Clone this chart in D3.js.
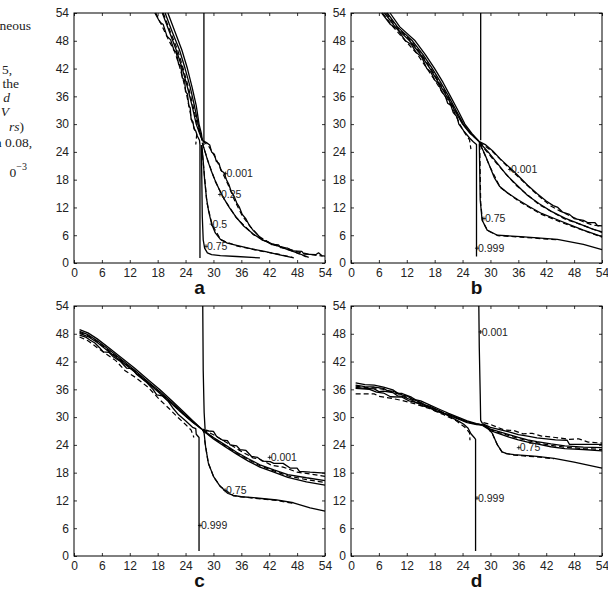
<!DOCTYPE html>
<html>
<head>
<meta charset="utf-8">
<script src="https://cdn.jsdelivr.net/npm/d3@7"></script>
<style>
  body { margin: 0; background: #fff; }
  svg { display: block; }
</style>
</head>
<body>
<svg width="608" height="603"></svg>
<script>
// axis ticks shared by all four panels
const tickValues = [0, 6, 12, 18, 24, 30, 36, 42, 48, 54];

// caption fragment cut off at the left edge: [text, style, rest]
const captionLines = [
  ["neous", "", ""], ["5,", "", ""], ["the", "", ""], ["d", "i", ""], ["V", "i", ""],
  ["rs", "i", ")"], ["n", "b", " 0.08,"], ["0", "", "\u22123"]
];

// contour lines, [x, y] in plot units; d = dashed
const curvesA = [
  { d: 0, p: [[17.4,54],[18.5,52],[19.2,51.5],[20,49],[20.8,48.2],[21.5,46],[22,45.5],[22.5,43],[23,42.5],[23.3,40],[23.8,39.5],[24,37],[24.4,36.5],[24.7,34],[25,33.5],[25.2,31],[25.6,30.5],[25.8,29],[26.2,28.5],[26.5,27.5],[27,26.5],[27.1,25.5],[27.1,1.1]] },
  { d: 1, p: [[17.6,54],[18.8,51.5],[20.2,48.5],[21.7,45.5],[22.6,42.8],[23.5,39.5],[24.2,36.5],[24.8,33.5],[25.4,30.5],[26,28.8],[26.4,27.8],[26.2,25.6]] },
  { d: 0, p: [[19,54],[20.5,50],[22,46],[23.3,42],[24.4,38],[25.4,34],[26.3,30],[27,28],[27.6,26.5]] },
  { d: 1, p: [[19.2,54],[20.7,50],[22.3,46],[23.5,42],[24.6,38],[25.6,34],[26.5,30],[27.1,28],[27.6,26.5]] },
  { d: 0, p: [[19.6,54],[21.1,50],[22.7,46],[23.9,42],[25,38],[25.9,34],[26.7,30],[27.2,28],[27.6,26.5]] },
  { d: 0, p: [[20.2,54],[21.7,50],[23.2,46],[24.4,42],[25.4,38],[26.3,34],[26.9,30],[27.4,28],[27.6,26.5]] },
  { d: 0, p: [[27.95,54],[27.95,25.5]] },
  { d: 0, p: [[27.6,26.5],[28.5,26],[29.2,25.5],[29.6,24],[30.2,23.5],[30.6,22],[31.2,21.5],[31.6,20],[32.3,19.5],[32.8,18],[33.3,17],[33.8,15.5],[34.4,14.5],[35,13],[35.6,12],[36.2,10.5],[37,9.5],[37.8,8],[38.6,7],[39.6,6],[40.5,5],[41.5,4.6],[42.5,4],[44,3.9],[44.5,3.3],[46,3.2],[47,2.6],[49,2.5],[49.5,1.9],[52,1.8],[52.6,2.2],[53.3,1.6],[54,1.5]] },
  { d: 1, p: [[27.7,26.4],[29,25.2],[30.4,22.8],[31.8,19.8],[33.2,16.8],[34.6,13.4],[36.2,10.2],[38,7.8],[40,5.6],[42,4.4],[44,3.7],[46,3.1],[48.5,2.3],[51,1.8],[53.5,1.5]] },
  { d: 0, p: [[27.6,26],[28.2,24],[28.8,22],[29.5,20],[30.3,18],[31.2,16],[32.2,14],[33.4,12],[34.8,10],[36.5,8],[38.5,6.3],[40.5,5],[43,4],[46,2.9],[48.5,2],[50.5,1.2]] },
  { d: 1, p: [[27.6,25.9],[28.9,21.8],[30.4,17.6],[32.3,13.8],[34.9,9.8],[38.6,6.1],[43,3.9],[47,2.6],[50,1.3]] },
  { d: 0, p: [[27.5,25.5],[27.8,22],[28.1,18],[28.5,14],[29,11],[29.6,8.5],[30.4,6.5],[31.5,5.1],[33,4.3],[35,3.8],[38,3.1],[41,2.5],[44,1.8],[47.3,1.1]] },
  { d: 1, p: [[27.5,25],[28.6,13],[29.7,8.3],[31.6,5],[35,3.7],[40,2.6],[44,1.9],[47,1.2]] },
  { d: 0, p: [[27.4,25.5],[27.5,18],[27.6,10],[27.8,5],[28.1,3.2],[28.7,2.2],[29.6,1.8],[31.5,1.6],[35,1.4],[40,1.1]] }
];
const labelsA = [["0.001", 32.6, 19.3], ["0.25", 31.4, 14.8], ["0.5", 29.6, 8.4], ["0.75", 28.4, 3.6]];

const curvesB = [
  { d: 0, p: [[6.6,54],[8.5,51.5],[10,50.5],[11.7,48],[13,47.2],[14,45.5],[15.2,44.5],[16.3,42],[17.2,41.2],[18,39.5],[18.8,38.8],[19.5,37],[20.3,36],[20.8,34.5],[21.5,34],[22,32.5],[22.8,31.6],[23.2,30],[24.3,28.5],[25.5,27],[26.3,26.2],[27,25.6],[27,1.4]] },
  { d: 1, p: [[6.8,54],[8.8,51.3],[11.9,47.8],[14.2,45.2],[16.5,41.8],[18.2,39.2],[19.7,36.8],[21.7,33.8],[23.4,30],[24.4,28.2],[25.5,26.6],[25.8,24.6]] },
  { d: 0, p: [[7.2,54],[9.5,51],[12.6,48],[15,45],[17,42],[18.8,39],[20.6,36],[22.3,33],[24,30],[25.6,28],[27.5,26.3]] },
  { d: 1, p: [[7.5,54],[9.8,51],[12.9,48],[15.2,45],[17.2,42],[19,39],[20.8,36],[22.4,33],[24.1,30],[25.7,28],[27.5,26.3]] },
  { d: 0, p: [[7.8,54],[10,51],[13.2,48],[15.5,45],[17.5,42],[19.3,39],[21,36],[22.6,33],[24.2,30],[25.8,28],[27.5,26.3]] },
  { d: 0, p: [[8.4,54],[10.5,51],[13.8,48],[16,45],[18,42],[19.8,39],[21.4,36],[23,33],[24.5,30],[26,28],[27.5,26.3]] },
  { d: 0, p: [[27.9,54],[27.9,26.5]] },
  { d: 0, p: [[27.5,26.3],[29,25.5],[30.5,24.2],[32,22.6],[33.5,21.2],[35,19.8],[36.5,18.3],[38,16.8],[40,15],[42,13.4],[43.5,12.4],[44.5,12],[45.5,11],[47,10.5],[48,9.6],[50,9.2],[51,8.7],[52.5,8.7],[53,8.1],[54,8.0]] },
  { d: 1, p: [[27.6,26.2],[30.5,24],[33.5,21],[36.5,18.1],[40,14.8],[43,12.3],[45,11.2],[47.5,10],[50,8.9],[52,8.2],[54,7.9]] },
  { d: 0, p: [[27.5,26.2],[29.5,24],[31.5,21.5],[33.5,19],[35.5,17],[38,14.6],[40.5,12.8],[43,11.2],[46,9.7],[49,8.5],[52,7.3],[54,6.7]] },
  { d: 1, p: [[27.6,26],[31.5,21.3],[35.5,16.8],[40.5,12.6],[46,9.5],[50,8.1],[54,6.6]] },
  { d: 0, p: [[27.7,25.8],[28.8,23.5],[29.8,21],[30.8,18.5],[32,16.5],[33.6,15.2],[36,13.6],[38.5,12.1],[41,10.7],[44,9.5],[47,8.3],[50,7.1],[54,5.7]] },
  { d: 1, p: [[27.8,25.6],[29.9,20.8],[32.1,16.3],[36,13.4],[41,10.5],[47,8.1],[54,5.6]] },
  { d: 0, p: [[27.6,25.8],[27.7,20],[27.8,13.6],[28.2,9.3],[29.3,7.1],[31.5,6],[36.5,5.7],[44.4,5.1],[50,4],[54,2.9]] },
  { d: 1, p: [[27.7,25.5],[27.9,13],[28.3,9],[29.4,7],[31.6,5.9],[36.5,5.6],[44.4,5]] }
];
const labelsB = [["0.001", 34.2, 20.2], ["0.75", 28.6, 9.6], ["0.999", 27.1, 3.2]];

const curvesC = [
  { d: 0, p: [[1.2,47.7],[2.5,47.3],[3.5,46.6],[4.5,46],[5.5,45],[6.3,44.1],[7.5,44],[8.5,43],[10,42],[11.3,40.6],[12.5,40.5],[13.5,39.2],[15.5,37.6],[17,36],[17.8,34.8],[19,34.6],[20.2,33.5],[21.4,31.8],[22.5,30.5],[24,29.2],[25.5,27.8],[26.2,27.5],[26.3,26.3],[26.9,25.6],[26.9,1.1]] },
  { d: 1, p: [[1.2,47.3],[3,46.5],[5,45],[7,43.6],[9,42.2],[11,40],[13.2,38.6],[16,36.4],[18.3,33.9],[20.5,31.8],[22.5,29.8],[24,28.4],[25.2,27.2],[25.8,25.6]] },
  { d: 0, p: [[1.2,48.1],[3,47.4],[5,46.1],[7.3,44.3],[10,42.2],[13,39.8],[16,37.3],[18.5,35.1],[21,32.9],[23.5,30.6],[25.5,28.9],[27.5,27.4]] },
  { d: 1, p: [[1.2,48.3],[3,47.6],[5,46.3],[7.4,44.4],[10,42.4],[13,40],[16,37.4],[18.5,35.3],[21,33],[23.5,30.7],[25.5,29],[27.5,27.4]] },
  { d: 0, p: [[1.2,48.5],[3,47.8],[5,46.5],[7.5,44.6],[10,42.6],[13,40.2],[16,37.6],[18.5,35.5],[21,33.2],[23.5,30.9],[25.5,29.1],[27.5,27.4]] },
  { d: 0, p: [[1.2,48.9],[3,48.2],[5,46.9],[7.7,44.8],[10,43],[13,40.6],[16,38],[18.5,35.9],[21,33.6],[23.5,31.2],[25.5,29.3],[27.5,27.4]] },
  { d: 0, p: [[27.7,54],[27.8,40],[28,31],[28.2,27.4]] },
  { d: 0, p: [[27.6,27.4],[29,27],[30,26.9],[30.7,25.8],[32,25],[33,24.9],[33.6,24],[35,23.8],[35.7,23],[37,22.8],[38.2,21.5],[39.5,21.3],[40.5,20.5],[42.2,20.4],[43,20],[45,20],[46.5,19],[48,19],[48.5,18.3],[50.8,18.1],[54,17.9]] },
  { d: 1, p: [[27.7,27.3],[30,26.2],[33,24.4],[36,22.6],[38.5,21.2],[40,20.9],[42.5,19.6],[45,19.2],[48,18.1],[51,17.7],[54,17.2]] },
  { d: 0, p: [[27.6,27.3],[30,25.6],[32.5,24],[35,22.4],[37.5,21],[40,19.7],[43,18.6],[46,17.6],[50,16.9],[54,16.3]] },
  { d: 1, p: [[27.6,27.2],[30,25.5],[32.5,23.8],[35,22.2],[37.5,20.8],[40,19.5],[43,18.4],[46,17.3],[50,16.5],[54,15.9]] },
  { d: 0, p: [[27.6,27.2],[30,25.3],[32.5,23.6],[35,22],[37.5,20.5],[40,19.2],[43,18.1],[46,17],[50,16],[54,15.3]] },
  { d: 0, p: [[27.8,27],[28,26.5],[28.3,23.7],[28.9,20.1],[30,17.2],[31.4,15.1],[33,13.6],[34.3,13.1],[36,12.8],[38.6,12.6],[43.6,12.1],[47.2,11.5],[50.8,10.4],[54,9.7]] },
  { d: 1, p: [[28.1,25],[28.9,20],[30.1,17],[31.5,15],[34.3,13],[38.6,12.5],[43.6,12],[47,11.4]] }
];
const labelsC = [["0.001", 42.1, 21.3], ["0.75", 32.5, 14.2], ["0.999", 27.1, 6.6]];

const curvesD = [
  { d: 0, p: [[1,36.2],[4,36],[5.5,35.4],[7,35.2],[8.5,34.4],[11,34.3],[12.5,33.5],[14,33.2],[15.5,32.4],[17,32.1],[18.5,31.2],[20,30.8],[21.5,30],[23,29.2],[24.2,28.5],[25.2,27.6],[25.8,26.4],[26.5,25.6],[26.8,25.2],[26.8,1.1]] },
  { d: 1, p: [[1,35],[5,35],[6,34.5],[7.2,34.3],[9,34],[11,33.6],[14,32.8],[17,31.8],[20,30.5],[22.5,29.3],[24.5,27.8],[25.5,26.6],[25.6,25]] },
  { d: 0, p: [[1,36.4],[3,36.2],[5,36.1],[6,35.5],[7,35.6],[9,35.3],[10,34.6],[11,34.5],[13,33.7],[14,33.1],[15,32.9],[17,32],[18,31.4],[19,31.2],[21,30.4],[23,29.6],[25,28.8],[27,28.4],[28.3,28.3]] },
  { d: 0, p: [[1,36.9],[3,36.6],[5,36.5],[7,36.2],[8,35.6],[9,35.6],[11,34.8],[12,34.6],[13,34],[15,33.2],[16,32.6],[17,32.3],[19,31.4],[20,30.8],[21,30.6],[23,29.8],[25,29],[27,28.5],[28.3,28.3]] },
  { d: 1, p: [[1,36.7],[3,36.4],[5,36.3],[7,36],[9,35.4],[11,34.7],[13,33.9],[15,33],[17,32.2],[19,31.3],[21,30.5],[23,29.7],[25,28.9],[28.3,28.3]] },
  { d: 0, p: [[1,37.4],[3,37],[5,36.9],[7,36.5],[9,35.9],[10,35.2],[11,35.1],[13,34.3],[14,33.7],[15,33.5],[17,32.6],[19,31.7],[21,30.8],[23,30],[25,29.2],[27,28.6],[28.3,28.3]] },
  { d: 0, p: [[27.5,54],[27.6,45],[27.8,35],[27.9,29.3],[28.3,28.6]] },
  { d: 0, p: [[28.3,28.6],[30,27.8],[32,27.3],[34,26.8],[36,26.2],[38,25.9],[40,25.5],[42,25.3],[44,25.1],[46.5,25],[47,24.1],[50,24.1],[54,24.1]] },
  { d: 1, p: [[28.5,28.8],[30,28.4],[33,27.2],[35,27.1],[37,26.4],[39,26.5],[41,25.9],[44,25.6],[47,25.2],[49,25.3],[51,24.6],[54,24.4]] },
  { d: 0, p: [[28.3,28.4],[30,27.4],[32,26.8],[34,26.2],[36,25.6],[38,25.1],[40,24.7],[43,24.2],[46,23.8],[50,23.5],[54,23.4]] },
  { d: 1, p: [[28.3,28.3],[30,27.3],[32,26.6],[34,26],[36,25.4],[38,24.9],[40,24.5],[43,23.9],[46,23.5],[50,23.2],[54,23]] },
  { d: 0, p: [[28.3,28.2],[30,27.1],[32,26.4],[34,25.7],[36,25.1],[38,24.6],[40,24.2],[43,23.6],[46,23.2],[50,23],[54,22.7]] },
  { d: 0, p: [[28.3,28.3],[29.3,27.9],[30.4,26.5],[31.5,24],[32.5,22.5],[33.5,22.1],[35.1,21.9],[40,21.5],[43.7,21.1],[48,20.3],[54,19]] },
  { d: 1, p: [[29.4,27.7],[30.5,26.2],[31.6,23.8],[32.6,22.3],[35.1,21.8],[40,21.4],[43.7,21]] }
];
const labelsD = [["0.001", 27.9, 48.4], ["0.75", 36.1, 23.4], ["0.999", 27.1, 12.5]];

const panelNames = ["a", "b", "c", "d"];

const svg = d3.select("svg");
const W = 251, H = 250;
const origins = [[74, 13], [351, 13], [74, 306], [351, 306]];
const allCurves = [curvesA, curvesB, curvesC, curvesD];
const allLabels = [labelsA, labelsB, labelsC, labelsD];

const x = d3.scaleLinear().domain([0, 54]).range([0, W]);
const y = d3.scaleLinear().domain([0, 54]).range([H, 0]);
const line = d3.line().x(d => x(d[0])).y(d => y(d[1]));

// caption fragment (serif, clipped by the page edge)
const cap = svg.append("g")
  .attr("font-family", "'Liberation Serif', 'DejaVu Serif', serif")
  .attr("font-size", 13.5)
  .attr("fill", "#222");
const capPos = [[31, 30], [12, 74], [19, 88], [10, 102], [9, 116], [24, 131], [32, 147], [27, 177]];
captionLines.forEach((ln, i) => {
  const t = cap.append("text")
    .attr("x", capPos[i][0]).attr("y", capPos[i][1])
    .attr("text-anchor", "end");
  const first = t.append("tspan").text(ln[0]);
  if (ln[1] === "i") first.attr("font-style", "italic");
  if (ln[1] === "b") first.attr("font-weight", "bold");
  if (i === 7) {
    t.append("tspan").attr("font-size", 10).attr("dy", -7).text(ln[2]);
  } else if (ln[2]) {
    t.append("tspan").text(ln[2]);
  }
});

panelNames.forEach((name, k) => {
  const g = svg.append("g")
    .attr("transform", `translate(${origins[k][0]},${origins[k][1]})`);

  const fontAxis = "'Liberation Sans', Arial, sans-serif";
  const ax = [
    [d3.axisBottom(x), `translate(0,${H})`, true],
    [d3.axisLeft(y), null, true],
    [d3.axisTop(x), null, false],
    [d3.axisRight(y), `translate(${W},0)`, false]
  ];
  ax.forEach(([a, tr, lab]) => {
    a.tickValues(tickValues).tickSizeInner(-3).tickSizeOuter(0).tickPadding(5);
    if (!lab) a.tickFormat("");
    const ag = g.append("g").call(a);
    if (tr) ag.attr("transform", tr);
    ag.select(".domain").remove();
    ag.selectAll("line").attr("stroke", "#000").attr("stroke-width", 0.8);
    ag.selectAll("text").attr("font-family", fontAxis).attr("font-size", 12).attr("fill", "#222");
  });

  g.append("rect")
    .attr("width", W).attr("height", H)
    .attr("fill", "none").attr("stroke", "#000").attr("stroke-width", 1);

  const curves = allCurves[k];
  g.selectAll("path.dash")
    .data(curves.filter(c => c.d))
    .join("path")
    .attr("class", "dash")
    .attr("d", c => line(c.p))
    .attr("fill", "none")
    .attr("stroke", "#000")
    .attr("stroke-width", 1.2)
    .attr("stroke-dasharray", "5,3");

  g.selectAll("path.solid")
    .data(curves.filter(c => !c.d))
    .join("path")
    .attr("class", "solid")
    .attr("d", c => line(c.p))
    .attr("fill", "none")
    .attr("stroke", "#000")
    .attr("stroke-width", 1.3)
    .attr("stroke-linejoin", "round");

  // contour labels with small "+" marks
  const lg = g.selectAll("g.lab")
    .data(allLabels[k])
    .join("g")
    .attr("class", "lab")
    .attr("transform", d => `translate(${x(d[1])},${y(d[2])})`);
  lg.append("path").attr("d", "M-2,0H2M0,-2V2").attr("stroke", "#000").attr("stroke-width", 0.8);
  lg.append("text")
    .attr("x", 1).attr("dy", "0.35em")
    .attr("font-family", fontAxis).attr("font-size", 10.5).attr("fill", "#222")
    .text(d => d[0]);

  g.append("text")
    .attr("x", W / 2).attr("y", H + 31)
    .attr("text-anchor", "middle")
    .attr("font-family", fontAxis)
    .attr("font-weight", "bold")
    .attr("font-size", 19)
    .attr("fill", "#111")
    .text(name);
});
</script>
</body>
</html>
